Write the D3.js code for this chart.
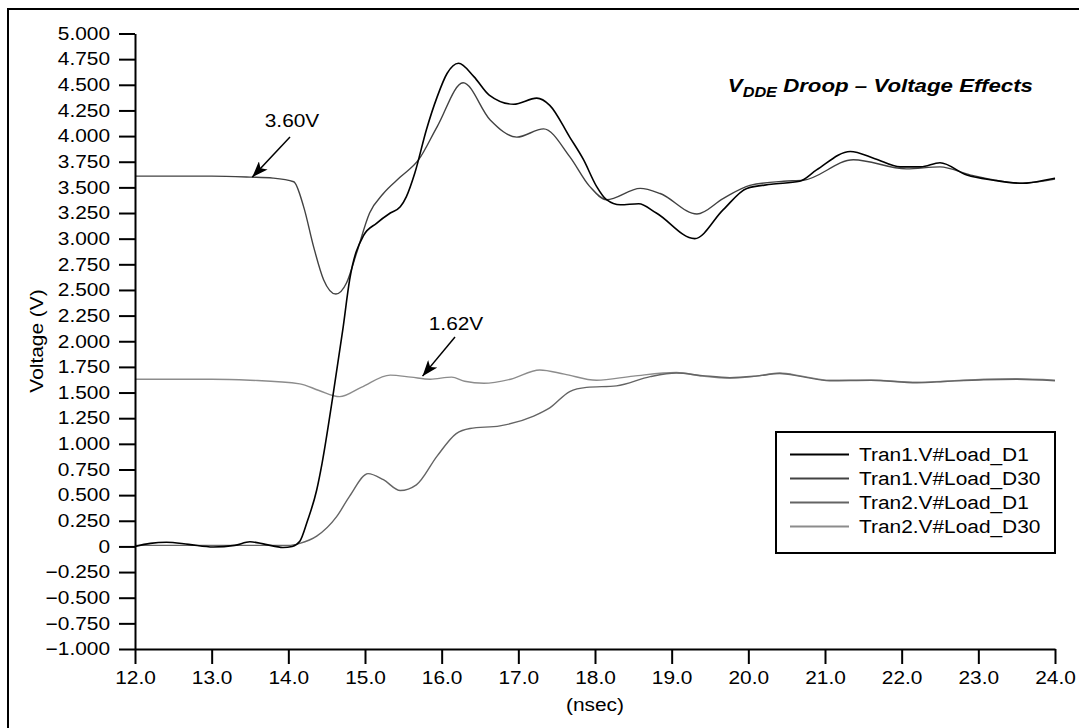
<!DOCTYPE html>
<html>
<head>
<meta charset="utf-8">
<script src="https://cdn.jsdelivr.net/npm/d3@7"></script>
<style>
  body { margin: 0; background: #fff; }
  svg text { font-family: "Liberation Sans", Arial, sans-serif; fill: #000; }
</style>
</head>
<body>
<svg id="chart" width="1079" height="728"></svg>
<script>
// time (nsec), voltage (V)
const tran1D1 = [
  [12.0, 0.0], [12.2, 0.03], [12.41, 0.04], [12.7, 0.02], [13.02, -0.005], [13.3, 0.01],
  [13.5, 0.045], [13.7, 0.02], [13.93, -0.01], [14.05, 0.0], [14.15, 0.05], [14.25, 0.25],
  [14.37, 0.55], [14.44, 0.81], [14.58, 1.46], [14.71, 2.11], [14.80, 2.60], [14.98, 3.03],
  [15.15, 3.15], [15.33, 3.25], [15.46, 3.31], [15.54, 3.41], [15.65, 3.64], [15.80, 4.06],
  [15.94, 4.38], [16.07, 4.61], [16.22, 4.71], [16.42, 4.58], [16.62, 4.40], [16.94, 4.31],
  [17.24, 4.37], [17.41, 4.30], [17.67, 3.99], [17.85, 3.77], [18.02, 3.51], [18.15, 3.38],
  [18.33, 3.33], [18.57, 3.34], [18.80, 3.25], [19.30, 3.00], [19.67, 3.28], [19.98, 3.49],
  [20.3, 3.53], [20.67, 3.56], [20.89, 3.67], [21.33, 3.85], [21.65, 3.78], [21.98, 3.70],
  [22.25, 3.70], [22.50, 3.74], [22.85, 3.62], [23.2, 3.57], [23.58, 3.54], [23.93, 3.58],
  [24.0, 3.59]
];
const tran1D30 = [
  [12.0, 3.61], [13.0, 3.61], [13.5, 3.60], [13.8, 3.59], [14.07, 3.555], [14.2, 3.31],
  [14.33, 2.92], [14.46, 2.60], [14.62, 2.46], [14.76, 2.57], [14.89, 2.86], [15.06, 3.25],
  [15.24, 3.44], [15.46, 3.60], [15.70, 3.77], [15.94, 4.09], [16.28, 4.52], [16.63, 4.16],
  [16.98, 3.99], [17.33, 4.07], [17.67, 3.80], [17.93, 3.51], [18.15, 3.38], [18.59, 3.49],
  [18.85, 3.44], [19.33, 3.24], [19.67, 3.39], [20.02, 3.52], [20.46, 3.56], [20.72, 3.57],
  [21.37, 3.77], [22.06, 3.68], [22.50, 3.70], [22.9, 3.62], [23.58, 3.54], [24.0, 3.58]
];
const tran2D1 = [
  [12.0, 0.01], [13.0, 0.01], [14.0, 0.01], [14.15, 0.03], [14.37, 0.10], [14.63, 0.29],
  [14.80, 0.49], [15.04, 0.71], [15.24, 0.65], [15.46, 0.545], [15.67, 0.60], [15.94, 0.88],
  [16.19, 1.10], [16.37, 1.15], [16.76, 1.175], [17.20, 1.27], [17.41, 1.35], [17.67, 1.51],
  [17.89, 1.55], [18.28, 1.565], [18.72, 1.655], [19.06, 1.69], [19.4, 1.665], [19.76, 1.645],
  [20.1, 1.66], [20.41, 1.685], [20.7, 1.655], [21.06, 1.615], [21.6, 1.62], [22.2, 1.595],
  [22.6, 1.61], [23.07, 1.625], [23.5, 1.63], [24.0, 1.615]
];
const tran2D30 = [
  [12.0, 1.63], [13.0, 1.63], [13.5, 1.62], [14.15, 1.585], [14.4, 1.52], [14.67, 1.46],
  [14.95, 1.55], [15.33, 1.67], [15.6, 1.65], [15.85, 1.63], [16.13, 1.65],
  [16.3, 1.61], [16.55, 1.59], [16.9, 1.63], [17.28, 1.72], [17.6, 1.68], [18.02, 1.62],
  [18.5, 1.66], [19.06, 1.695], [19.4, 1.66], [19.76, 1.64], [20.1, 1.66], [20.41, 1.69],
  [20.7, 1.66], [21.06, 1.62], [21.6, 1.62], [22.2, 1.60], [22.6, 1.61], [23.07, 1.63],
  [23.5, 1.635], [24.0, 1.62]
];
const seriesNames = ["Tran1.V#Load_D1", "Tran1.V#Load_D30", "Tran2.V#Load_D1", "Tran2.V#Load_D30"];
const seriesData = [tran1D1, tran1D30, tran2D1, tran2D30];
const seriesColors = ["#000000", "#424242", "#646464", "#8c8c8c"];

const xTicks = [12, 13, 14, 15, 16, 17, 18, 19, 20, 21, 22, 23, 24];
const yTicks = [-1, -0.75, -0.5, -0.25, 0, 0.25, 0.5, 0.75, 1, 1.25, 1.5, 1.75, 2, 2.25, 2.5,
                2.75, 3, 3.25, 3.5, 3.75, 4, 4.25, 4.5, 4.75, 5];
const annotations = [
  { label: "3.60V", t: 13.53, v: 3.60, lx: 292, ly: 127, ax: 290, ay: 137 },
  { label: "1.62V", t: 15.75, v: 1.66, lx: 456, ly: 330, ax: 455, ay: 337 }
];

const sx = 1.16;  // the text in the original is a bit wide
const fontSize = 18;

var svg = d3.select("#chart");

svg.append("defs").append("marker")
    .attr("id", "head")
    .attr("viewBox", "0 0 16 12")
    .attr("refX", 16).attr("refY", 6)
    .attr("markerWidth", 16).attr("markerHeight", 12)
    .attr("markerUnits", "userSpaceOnUse")
    .attr("orient", "auto")
  .append("path")
    .attr("d", "M0,0 L16,6 L0,12 L4,6 Z")
    .attr("fill", "#000");

// outer frame
svg.append("rect")
    .attr("x", 8).attr("y", 9)
    .attr("width", 1078).attr("height", 728)
    .attr("fill", "none").attr("stroke", "#000").attr("stroke-width", 2);

var x = d3.scaleLinear().domain([12, 24]).range([135, 1055]);
var y = d3.scaleLinear().domain([-1, 5]).range([649, 33.5]);

var line = d3.line()
    .x(d => x(d[0]))
    .y(d => y(d[1]))
    .curve(d3.curveMonotoneX);

// draw lightest first so black ends on top
svg.append("g").selectAll("path")
    .data(seriesData.map((d, i) => ({ pts: d, i: i })).reverse())
    .enter().append("path")
    .attr("d", d => line(d.pts))
    .attr("fill", "none")
    .attr("stroke", d => seriesColors[d.i])
    .attr("stroke-width", d => d.i == 0 ? 1.6 : 1.4);

var fmtY = v => v == 0 ? "0" : d3.format(".3f")(v).replace("-", "\u2212");

var yAxis = svg.append("g")
    .attr("transform", "translate(135,0)")
    .call(d3.axisLeft(y).tickValues(yTicks).tickFormat(fmtY).tickSize(16).tickSizeOuter(0).tickPadding(9));
yAxis.selectAll("text")
    .attr("x", -25 / sx)
    .attr("transform", "scale(" + sx + ",1)")
    .attr("font-size", fontSize);

var xAxis = svg.append("g")
    .attr("transform", "translate(0,649)")
    .call(d3.axisBottom(x).tickValues(xTicks).tickFormat(d3.format(".1f")).tickSize(15).tickSizeOuter(0).tickPadding(7));
xAxis.selectAll("text")
    .attr("transform", "scale(" + sx + ",1)")
    .attr("font-size", fontSize);

svg.selectAll(".domain, .tick line")
    .attr("stroke", "#000")
    .attr("stroke-width", 2);
svg.selectAll(".tick text").attr("fill", "#000").attr("font-family", "Liberation Sans, Arial, sans-serif");

// axis titles
svg.append("text")
    .attr("transform", "translate(595,711) scale(" + sx + ",1)")
    .attr("text-anchor", "middle")
    .attr("font-size", fontSize)
    .text("(nsec)");
svg.append("text")
    .attr("transform", "translate(43,341) rotate(-90) scale(" + sx + ",1)")
    .attr("text-anchor", "middle")
    .attr("font-size", fontSize)
    .text("Voltage (V)");

// chart title
var title = svg.append("text")
    .attr("transform", "translate(1033,92) scale(" + sx + ",1)")
    .attr("text-anchor", "end")
    .attr("font-size", 19.2)
    .attr("font-weight", "bold")
    .attr("font-style", "italic");
title.append("tspan").text("V");
title.append("tspan").attr("font-size", 14).attr("dy", 5).text("DDE");
title.append("tspan").attr("dy", -5).text(" Droop \u2013 Voltage Effects");

// value callouts
var notes = svg.append("g").selectAll("g")
    .data(annotations)
    .enter().append("g");
notes.append("text")
    .attr("transform", d => "translate(" + d.lx + "," + d.ly + ") scale(" + sx + ",1)")
    .attr("text-anchor", "middle")
    .attr("font-size", fontSize)
    .text(d => d.label);
notes.append("line")
    .attr("x1", d => d.ax).attr("y1", d => d.ay)
    .attr("x2", d => x(d.t)).attr("y2", d => y(d.v))
    .attr("stroke", "#000").attr("stroke-width", 1.5)
    .attr("marker-end", "url(#head)");

// legend
var legend = svg.append("g").attr("transform", "translate(776,432)");
legend.append("rect")
    .attr("width", 279).attr("height", 121)
    .attr("fill", "#fff").attr("stroke", "#000").attr("stroke-width", 2);
var rows = legend.selectAll("g.row")
    .data(seriesNames)
    .enter().append("g")
    .attr("class", "row")
    .attr("transform", (d, i) => "translate(0," + (22.5 + i * 24) + ")");
rows.append("line")
    .attr("x1", 14).attr("x2", 73)
    .attr("stroke", (d, i) => seriesColors[i])
    .attr("stroke-width", 2);
rows.append("text")
    .attr("transform", "translate(83,0) scale(" + sx + ",1)")
    .attr("dy", "0.35em")
    .attr("font-size", fontSize)
    .text(d => d);
</script>
</body>
</html>
